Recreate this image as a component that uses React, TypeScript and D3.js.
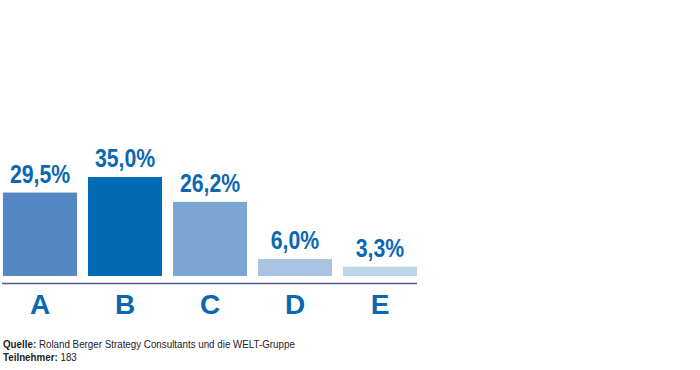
import React from "react";
import * as d3 from "d3";

const categories = ["A", "B", "C", "D", "E"];
const values = [29.5, 35.0, 26.2, 6.0, 3.3];
const barColors = ["#5587c5", "#006ab4", "#7ba6d3", "#a9c4e3", "#bcd5eb"];
const sourceLabel = "Quelle";
const sourceText = " Roland Berger Strategy Consultants und die WELT-Gruppe";
const participantsLabel = "Teilnehmer";
const participantsText = " 183";

const sans = "'Liberation Sans', Arial, sans-serif";
// no narrow face installed, so squeeze Liberation Sans horizontally
const squeeze = 0.85;
const noteSqueeze = 0.89;

const App = () => {
    const width = 700,
        height = 370,
        baseline = 276;

    const xScale = d3.scaleBand<string>()
        .domain(categories)
        .range([3, 417])
        .paddingInner(11 / 85)
        .paddingOuter(0);

    const yScale = d3.scaleLinear().domain([0, 35]).range([baseline, baseline - 99]);

    const fmt = (v: number) => d3.format(".1f")(v).replace(".", ",") + "%";
    const mid = (c: string) => (xScale(c) as number) + xScale.bandwidth() / 2;

    return (
        <svg width={width} height={height} style={{ position: "absolute", left: 0, top: 0 }}>
            <rect width={width} height={height} fill="#ffffff" />
            {categories.map((c, i) => (
                <g key={c}>
                    <rect
                        x={xScale(c)}
                        y={yScale(values[i])}
                        width={xScale.bandwidth()}
                        height={baseline - yScale(values[i])}
                        fill={barColors[i]}
                    />
                    <text
                        transform={`scale(${squeeze},1)`}
                        x={mid(c) / squeeze}
                        y={yScale(values[i]) - 10}
                        textAnchor="middle"
                        fontFamily={sans}
                        fontWeight="bold"
                        fontSize={25}
                        fill="#0a67b2"
                    >
                        {fmt(values[i])}
                    </text>
                    <text
                        x={mid(c)}
                        y={314}
                        textAnchor="middle"
                        fontFamily={sans}
                        fontWeight="bold"
                        fontSize={28}
                        fill="#0a67b2"
                    >
                        {c}
                    </text>
                </g>
            ))}
            <line x1={2} x2={417} y1={283.5} y2={283.5} stroke="#4d5b8c" strokeWidth={1.5} />
            <g transform={`scale(${noteSqueeze},1)`}>
                <text x={3 / noteSqueeze} y={348} fontFamily={sans} fontSize={11} fill="#222">
                    <tspan fontWeight="bold">{sourceLabel}:</tspan>
                    {sourceText}
                </text>
                <text x={3 / noteSqueeze} y={361} fontFamily={sans} fontSize={11} fill="#222">
                    <tspan fontWeight="bold">{participantsLabel}:</tspan>
                    {participantsText}
                </text>
            </g>
        </svg>
    );
};

export default App;
